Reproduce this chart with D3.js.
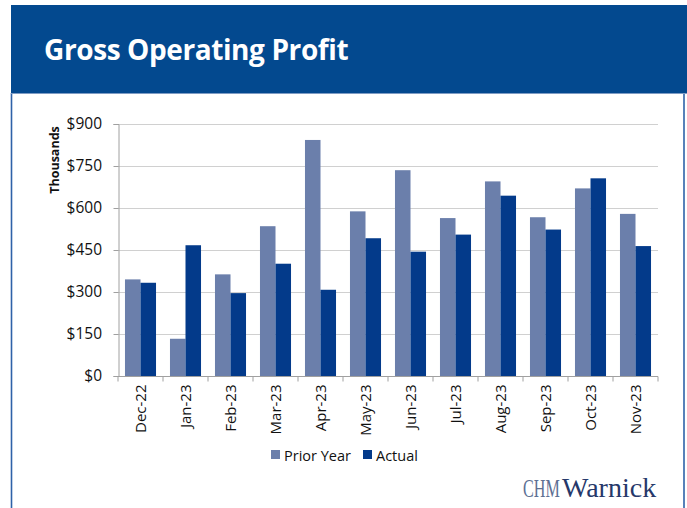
<!DOCTYPE html>
<html>
<head>
<meta charset="utf-8">
<script src="https://cdn.jsdelivr.net/npm/d3@7/dist/d3.min.js"></script>
<style>
  html, body { margin: 0; padding: 0; background: #fff; }
  svg { display: block; }
</style>
</head>
<body>
<svg id="chart" width="687" height="508"></svg>
<script>
// Monthly gross operating profit, in thousands of dollars
const months = ["Dec-22","Jan-23","Feb-23","Mar-23","Apr-23","May-23","Jun-23","Jul-23","Aug-23","Sep-23","Oct-23","Nov-23"];
const priorYear = [345, 133, 363, 535, 843, 588, 735, 564, 695, 567, 670, 579];
const actual    = [333, 467, 296, 401, 308, 492, 444, 505, 644, 523, 706, 464];
const yTicks = [0, 150, 300, 450, 600, 750, 900];
const seriesNames = ["Prior Year", "Actual"];
const seriesColors = ["#6b7fab", "#033a8a"];

const svg = d3.select("#chart");
const W = 687, H = 508;

// Slide frame: header band plus bordered white panel
svg.append("rect").attr("x", 11).attr("y", 5).attr("width", W - 11).attr("height", 88).attr("fill", "#03498f");
svg.append("line").attr("x1", 11.5).attr("x2", 11.5).attr("y1", 93).attr("y2", H).attr("stroke", "#2e62a8").attr("stroke-width", 1.6);
svg.append("line").attr("x1", 684).attr("x2", 684).attr("y1", 93).attr("y2", H).attr("stroke", "#2e62a8").attr("stroke-width", 1.6);
svg.append("line").attr("x1", 11).attr("x2", W).attr("y1", 93.5).attr("y2", 93.5).attr("stroke", "#7f9cc4").attr("stroke-width", 1);

svg.append("text")
  .attr("x", 44).attr("y", 60)
  .attr("fill", "#fff")
  .attr("font-family", "'Open Sans', 'Noto Sans', sans-serif")
  .attr("font-weight", 700)
  .attr("font-size", 28)
  .attr("letter-spacing", -0.4)
  .text("Gross Operating Profit");

// Plot area
const margin = { left: 118, right: 658, top: 124, bottom: 376 };
const x = d3.scaleBand().domain(months).range([margin.left, margin.right]).paddingInner(0.31).paddingOuter(0.155);
const xs = d3.scaleBand().domain(seriesNames).range([0, x.bandwidth()]);
const y = d3.scaleLinear().domain([0, 900]).range([margin.bottom, margin.top]);

const fontFam = "'Open Sans', 'Noto Sans', sans-serif";

// Gridlines
svg.append("g")
  .selectAll("line")
  .data(yTicks.filter(d => d > 0))
  .join("line")
  .attr("x1", margin.left).attr("x2", margin.right)
  .attr("y1", d => Math.round(y(d)) + 0.5).attr("y2", d => Math.round(y(d)) + 0.5)
  .attr("stroke", "#d0d0d0").attr("stroke-width", 1);

// Bars
const seriesData = [priorYear, actual];
seriesData.forEach((vals, si) => {
  svg.append("g")
    .selectAll("rect")
    .data(vals)
    .join("rect")
    .attr("x", (d, i) => x(months[i]) + xs(seriesNames[si]))
    .attr("width", xs.bandwidth())
    .attr("y", d => y(d))
    .attr("height", d => y(0) - y(d))
    .attr("fill", seriesColors[si]);
});

// Y axis
const yAxis = d3.axisLeft(y).tickValues(yTicks).tickSize(5).tickPadding(11.5).tickFormat(d => "$" + d);
const gy = svg.append("g").attr("transform", `translate(${margin.left + 0.5},0)`).call(yAxis);
gy.select(".domain").attr("stroke", "#a0a0a0");
gy.selectAll(".tick line").attr("stroke", "#a0a0a0");
gy.selectAll(".tick text").attr("font-family", fontFam).attr("font-size", 15.5).attr("fill", "#111");

// X axis with ticks between categories
const gx = svg.append("g").attr("transform", `translate(0,${margin.bottom + 0.5})`);
gx.append("line").attr("x1", margin.left).attr("x2", margin.right).attr("stroke", "#a0a0a0");
gx.selectAll("line.sep")
  .data(d3.range(months.length + 1))
  .join("line")
  .attr("class", "sep")
  .attr("x1", i => margin.left + i * (margin.right - margin.left) / months.length)
  .attr("x2", i => margin.left + i * (margin.right - margin.left) / months.length)
  .attr("y1", 0).attr("y2", 5)
  .attr("stroke", "#a0a0a0");
gx.selectAll("text")
  .data(months)
  .join("text")
  .attr("transform", d => `translate(${x(d) + x.bandwidth() / 2 + 5.5},8) rotate(-90)`)
  .attr("text-anchor", "end")
  .attr("font-family", fontFam)
  .attr("font-size", 15)
  .attr("fill", "#111")
  .text(d => d);

// Y axis title
svg.append("text")
  .attr("transform", "translate(58.5,160) rotate(-90)")
  .attr("text-anchor", "middle")
  .attr("font-family", fontFam)
  .attr("font-weight", 700)
  .attr("font-size", 12.5)
  .attr("fill", "#111")
  .text("Thousands");

// Legend
const legendItems = [{ name: seriesNames[0], x: 271 }, { name: seriesNames[1], x: 363 }];
legendItems.forEach((it, i) => {
  svg.append("rect").attr("x", it.x).attr("y", 450).attr("width", 9).attr("height", 9).attr("fill", seriesColors[i]);
  svg.append("text")
    .attr("x", it.x + 13).attr("y", 460.5)
    .attr("font-family", fontFam).attr("font-size", 14.5).attr("fill", "#111")
    .text(it.name);
});

// Company mark: condensed "CHM" followed by "Warnick"
const serif = "'Liberation Serif', 'DejaVu Serif', serif";
svg.append("text")
  .attr("transform", "translate(523,497) scale(0.62,1)")
  .attr("font-family", serif).attr("font-size", 26)
  .attr("fill", "#5d6f93")
  .text("CHM");
svg.append("text")
  .attr("x", 562).attr("y", 497)
  .attr("font-family", serif).attr("font-size", 28)
  .attr("fill", "#26386a")
  .text("Warnick");
</script>
</body>
</html>
